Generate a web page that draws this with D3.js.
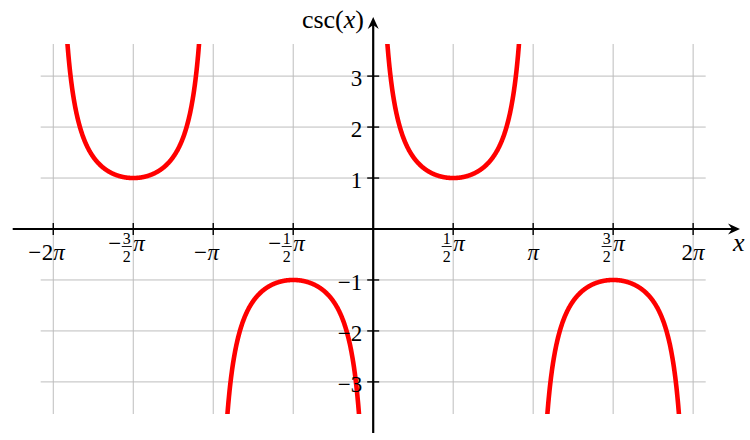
<!DOCTYPE html>
<html>
<head>
<meta charset="utf-8">
<script src="https://cdn.jsdelivr.net/npm/d3@7"></script>
<style>
  body { margin: 0; background: #fff; }
  text { font-family: "Liberation Serif", "DejaVu Serif", serif; fill: #000; }
  .lbl { font-size: 23px; }
  .frac { font-size: 16px; }
</style>
</head>
<body>
<div id="chart"></div>
<script>
// tick positions in multiples of pi and their labels
const xTickPi = [-2, -1.5, -1, -0.5, 0.5, 1, 1.5, 2];
const xTickLabels = ["−2π", "−3/2π", "−π", "−1/2π", "1/2π", "π", "3/2π", "2π"];
const yTicks = [-3, -2, -1, 1, 2, 3];
const yTickLabels = ["−3", "−2", "−1", "1", "2", "3"];
const gridXPi = [-2, -1.5, -1, -0.5, 0, 0.5, 1, 1.5, 2];
const gridY = [-3, -2, -1, 0, 1, 2, 3];
// plotted window
const xDomain = [-6.53, 6.53];
const yDomain = [-3.63, 3.63];
// csc branches between its asymptotes, in multiples of pi
const branches = [[-2, -1], [-1, 0], [0, 1], [1, 2]];
const yLabel = "csc";
const xLabel = "x";

const W = 750, H = 440;
const svg = d3.select("#chart").append("svg")
  .attr("width", W).attr("height", H);

const x = d3.scaleLinear().domain(xDomain).range([40.7, 705.7]);
const y = d3.scaleLinear().domain(yDomain).range([414, 44]);
const x0 = x(0), y0 = y(0);

// grid
const grid = svg.append("g").attr("stroke", "#bdbdbd").attr("stroke-width", 1);
grid.selectAll("line.v").data(gridXPi).enter().append("line")
  .attr("x1", d => x(d * Math.PI)).attr("x2", d => x(d * Math.PI))
  .attr("y1", y(yDomain[0])).attr("y2", y(yDomain[1]));
grid.selectAll("line.h").data(gridY).enter().append("line")
  .attr("y1", d => y(d)).attr("y2", d => y(d))
  .attr("x1", x(xDomain[0])).attr("x2", x(xDomain[1]));

// curve, clipped to the window
svg.append("clipPath").attr("id", "clip").append("rect")
  .attr("x", x(xDomain[0])).attr("y", y(yDomain[1]))
  .attr("width", x(xDomain[1]) - x(xDomain[0]))
  .attr("height", y(yDomain[0]) - y(yDomain[1]));

const line = d3.line().x(d => x(d[0])).y(d => y(d[1]));
branches.forEach(b => {
  const a = b[0] * Math.PI, c = b[1] * Math.PI;
  const pts = [];
  const n = 600;
  for (let i = 1; i < n; i++) {
    const t = a + (c - a) * i / n;
    const v = 1 / Math.sin(t);
    if (Math.abs(v) < 12) pts.push([t, v]);
  }
  svg.append("path").datum(pts)
    .attr("clip-path", "url(#clip)")
    .attr("fill", "none").attr("stroke", "#f00")
    .attr("stroke-width", 4.6).attr("stroke-linejoin", "round")
    .attr("d", line);
});

// axes
const ax = svg.append("g").attr("stroke", "#000");
ax.append("line").attr("x1", 12.7).attr("x2", 736).attr("y1", y0).attr("y2", y0).attr("stroke-width", 2.2);
ax.append("line").attr("x1", x0).attr("x2", x0).attr("y1", 433).attr("y2", 21).attr("stroke-width", 2.2);
const arrow = "M0,0 L-12,-5.5 L-8,0 L-12,5.5 Z";
svg.append("path").attr("d", arrow).attr("fill", "#000")
  .attr("transform", `translate(740,${y0})`);
svg.append("path").attr("d", arrow).attr("fill", "#000")
  .attr("transform", `translate(${x0},17) rotate(-90)`);

// ticks
ax.selectAll("line.xt").data(xTickPi).enter().append("line")
  .attr("x1", d => x(d * Math.PI)).attr("x2", d => x(d * Math.PI))
  .attr("y1", y0 - 6).attr("y2", y0 + 6).attr("stroke-width", 1.4);
ax.selectAll("line.yt").data(yTicks).enter().append("line")
  .attr("y1", d => y(d)).attr("y2", d => y(d))
  .attr("x1", x0 - 6).attr("x2", x0 + 6).attr("stroke-width", 1.4);

// y tick labels
svg.selectAll("text.yl").data(yTicks).enter().append("text")
  .attr("class", "lbl").attr("text-anchor", "end")
  .attr("x", x0 - 11).attr("y", d => y(d) + 10)
  .text((d, i) => yTickLabels[i]);

// x tick labels, with stacked fractions
xTickPi.forEach((t, i) => {
  const label = xTickLabels[i];
  const neg = label.startsWith("−");
  const body = neg ? label.slice(1) : label;
  const g = svg.append("g").attr("transform", `translate(${x(t * Math.PI)},0)`);
  let left, base;
  if (body.includes("/")) {
    const num = body.split("/")[0];
    const den = body.split("/")[1].replace("π", "");
    base = 250.5;
    const nt = g.append("text").attr("class", "frac").attr("y", 244).text(num);
    const dt = g.append("text").attr("class", "frac").attr("y", 261.5).text(den);
    const fw = Math.max(nt.node().getComputedTextLength(), dt.node().getComputedTextLength()) + 2;
    const pt = g.append("text").attr("class", "lbl").attr("font-style", "italic")
      .attr("y", base).text("π");
    const pw = pt.node().getComputedTextLength();
    left = -(fw + 1.5 + pw) / 2;
    nt.attr("x", left + fw / 2).attr("text-anchor", "middle");
    dt.attr("x", left + fw / 2).attr("text-anchor", "middle");
    g.append("line").attr("x1", left).attr("x2", left + fw)
      .attr("y1", 246.5).attr("y2", 246.5).attr("stroke", "#000").attr("stroke-width", 0.9);
    pt.attr("x", left + fw + 1.5);
  } else {
    base = 260;
    const tt = g.append("text").attr("class", "lbl").attr("y", base);
    const coef = body.replace("π", "");
    if (coef) tt.append("tspan").text(coef);
    tt.append("tspan").attr("font-style", "italic").text("π");
    const w = tt.node().getComputedTextLength();
    left = -w / 2;
    tt.attr("x", left);
  }
  if (neg) {
    g.append("text").attr("class", "lbl").attr("text-anchor", "end")
      .attr("x", left - 0.5).attr("y", base).text("−");
  }
});

// axis labels
const yl = svg.append("text").attr("class", "lbl").attr("text-anchor", "end")
  .attr("x", 364).attr("y", 28).style("font-size", "26px");
yl.append("tspan").text(yLabel + "(");
yl.append("tspan").attr("font-style", "italic").text(xLabel);
yl.append("tspan").text(")");
svg.append("text").attr("class", "lbl").attr("font-style", "italic")
  .attr("x", 733).attr("y", 251).style("font-size", "26px").text(xLabel);
</script>
</body>
</html>
